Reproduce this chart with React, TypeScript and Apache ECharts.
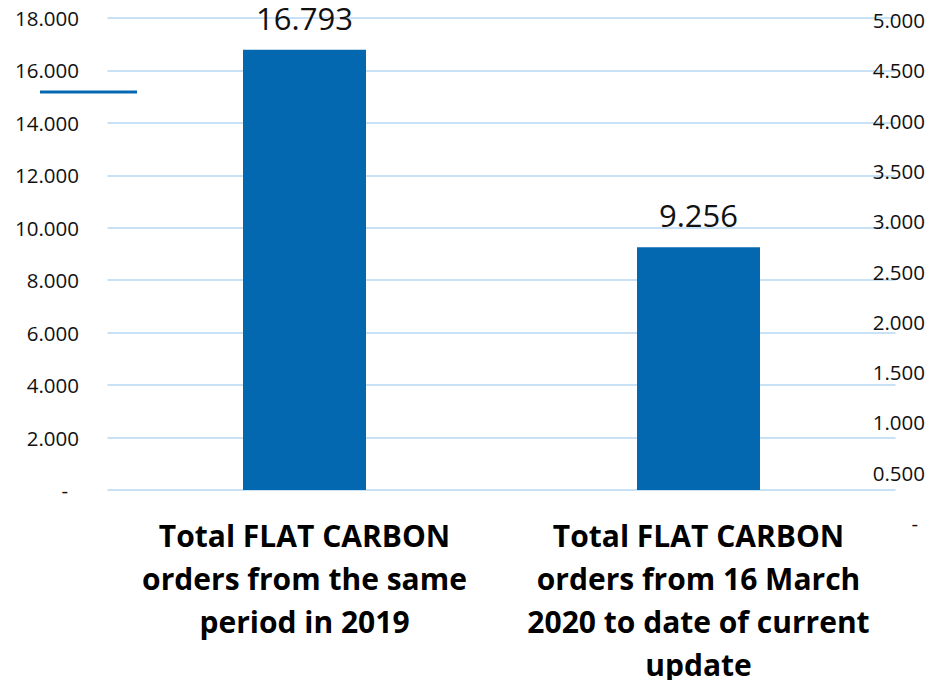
import React, { useEffect, useRef } from "react";
import * as echarts from "echarts";

const categories = [
  "Total FLAT CARBON\norders from the same\nperiod in 2019",
  "Total FLAT CARBON\norders from 16 March\n2020 to date of current\nupdate",
];
const orders = [16793, 9256];
const leftAxisMax = 18000;
const leftAxisStep = 2000;
const rightAxisMax = 5000;
const rightAxisStep = 500;

const fmt = (v: number) => (v / 1000).toFixed(3);
const FONT = "'Open Sans', 'Noto Sans', sans-serif";

export default function App() {
  const ref = useRef<HTMLDivElement>(null);
  useEffect(() => {
    if (!ref.current) return;
    const chart = echarts.init(ref.current, null, { renderer: "svg" });
    chart.setOption({
      animation: false,
      backgroundColor: "#ffffff",
      grid: [
        { left: 107.5, right: 31.5, top: 18, bottom: 190, outerBoundsMode: "none", containLabel: false },
        { left: 107.5, right: 31.5, top: 20, bottom: 157, outerBoundsMode: "none", containLabel: false },
      ],
      xAxis: [
        {
          type: "category",
          gridIndex: 0,
          data: categories,
          axisLine: { show: false },
          axisTick: { show: false },
          axisLabel: {
            interval: 0,
            margin: 24,
            color: "#000",
            fontFamily: FONT,
            fontWeight: "bold",
            fontSize: 30,
            lineHeight: 43,
            align: "center",
            verticalAlign: "top",
          },
        },
        {
          type: "category",
          gridIndex: 1,
          data: categories,
          show: false,
        },
      ],
      yAxis: [
        {
          type: "value",
          gridIndex: 0,
          min: 0,
          max: leftAxisMax,
          interval: leftAxisStep,
          axisLine: { show: false },
          axisTick: { show: false },
          splitLine: { lineStyle: { color: "#C9E1F4", width: 2 } },
          axisLabel: {
            margin: 28.5,
            color: "#111",
            fontFamily: FONT,
            fontSize: 20.5,
            formatter: (v: number) => (v === 0 ? "{d|-}" : fmt(v)),
            rich: {
              d: { fontFamily: FONT, fontSize: 20.5, color: "#111", padding: [0, 11, 0, 0] },
            },
          },
        },
        {
          type: "value",
          gridIndex: 1,
          position: "right",
          min: 0,
          max: rightAxisMax,
          interval: rightAxisStep,
          axisLine: { show: false },
          axisTick: { show: false },
          splitLine: { show: false },
          axisLabel: {
            margin: 29.5,
            align: "right",
            color: "#111",
            fontFamily: FONT,
            fontSize: 20.5,
            formatter: (v: number) => (v === 0 ? "{d|-}" : fmt(v)),
            rich: {
              d: { fontFamily: FONT, fontSize: 20.5, color: "#111", padding: [0, 7, 0, 0] },
            },
          },
        },
      ],
      series: [
        {
          type: "bar",
          xAxisIndex: 0,
          yAxisIndex: 0,
          data: orders,
          barWidth: 123,
          itemStyle: { color: "#0468B1" },
          label: {
            show: true,
            position: "top",
            distance: 20,
            color: "#111",
            fontFamily: FONT,
            fontSize: 31,
            lineHeight: 24,
            formatter: (p: any) => fmt(p.value),
          },
        },
      ],
      graphic: [
        {
          type: "line",
          shape: { x1: 40, y1: 92, x2: 137, y2: 92 },
          style: { stroke: "#0468B1", lineWidth: 3 },
        },
      ],
    });
    return () => chart.dispose();
  }, []);
  return (
    <div
      ref={ref}
      style={{ position: "absolute", left: 0, top: 0, width: 927, height: 680 }}
    />
  );
}
